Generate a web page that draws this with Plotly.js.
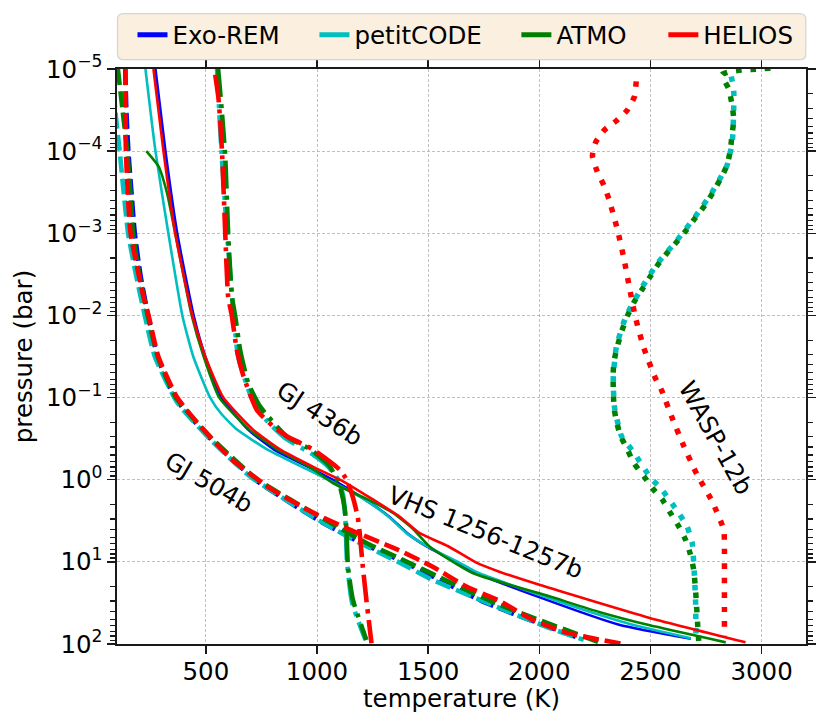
<!DOCTYPE html>
<html><head><meta charset="utf-8">
<script src="https://cdn.plot.ly/plotly-3.0.1.min.js"></script>
<style>html,body{margin:0;padding:0;background:#fff}#chart{width:830px;height:727px}</style>
</head><body><div id="chart"></div>
<script>
// ---------- data (temperature in K, pressure as log10(bar)) ----------
const models = ['Exo-REM', 'petitCODE', 'ATMO', 'HELIOS'];
const yTickExponents = [-5, -4, -3, -2, -1, 0, 1, 2];
const yTickText = ['10<sup>−5</sup>','10<sup>−4</sup>','10<sup>−3</sup>','10<sup>−2</sup>','10<sup>−1</sup>','10<sup>0</sup>','10<sup>1</sup>','10<sup>2</sup>'];
const planetLabels = ['GJ 436b', 'GJ 504b', 'VHS 1256-1257b', 'WASP-12b'];
const xTitle = 'temperature (K)';
const yTitle = 'pressure (bar)';

// VHS 1256-1257b (solid)
const vhsExoremLogP = [-5,-4,-3,-2,-1.5,-1,-0.61,-0.37,-0.16,0,0.24,0.45,0.65,0.815,1.01,1.13,1.42,1.765,1.936];
const vhsExoremT    = [273,318,371,445,497,570,690,805,958,1070,1215,1325,1405,1495,1630,1712,1990,2359,2682];
const vhsPetitLogP  = [-5,-4,-3,-2,-1.5,-1,-0.8,-0.61,-0.37,-0.16,0,0.24,0.45,0.65,0.815,1.01,1.13,1.42,1.61,1.765,1.93];
const vhsPetitT     = [228,273,331,394,443,519,570,640,775,930,1050,1212,1322,1402,1498,1640,1722,2020,2230,2420,2682];
const vhsAtmoLogP   = [-4,-3.81,-3.49,-3,-2,-1.5,-1,-0.61,-0.37,-0.16,0.04,0.24,0.405,0.6,0.812,1.136,1.42,1.61,1.77,1.98];
const vhsAtmoT      = [232,288,325,362,436,490,560,695,820,965,1071,1228,1342,1432,1506,1700,2045,2269,2493,2839];
const vhsHeliosLogP = [-5,-4,-3,-2,-1.5,-1,-0.61,-0.37,-0.16,0,0.12,0.24,0.45,0.65,0.81,1.01,1.12,1.28,1.68,1.98];
const vhsHeliosT    = [264,309,362,439,497,578,712,833,981,1103,1179,1251,1372,1462,1590,1717,1820,2000,2493,2928];

// GJ 504b (dashed)
const gj504ExoremLogP = [-5,-4.5,-4,-3.5,-3,-2.5,-2,-1.5,-1,-0.5,0,0.5,0.77,1,1.5,1.93];
const gj504ExoremT    = [137,142,151,165,180,205,240,282,360,520,722,1010,1200,1390,1760,2180];
const gj504PetitLogP  = [-5,-4.5,-4,-3.5,-3,-2.5,-2,-1.5,-0.94,-0.49,-0.04,0.48,0.64,0.77,1.01,1.22,1.79,1.95];
const gj504PetitT     = [80,92,112,130,150,185,225,270,371,520,699,999,1103,1192,1372,1520,2031,2200];
const gj504AtmoLogP   = [-5,-4.5,-4,-3.5,-3,-2.5,-2,-1.5,-1,-0.5,0,0.5,0.77,1,1.5,2];
const gj504AtmoT      = [104,125,146,160,172,200,238,283,365,528,733,1045,1222,1405,1800,2290];
const gj504HeliosLogP = [-5,-4,-3,-2.23,-2,-1.5,-1,-0.61,-0.244,0.121,0.401,0.608,0.852,1.059,1.302,1.473,1.704,1.862,1.996];
const gj504HeliosT    = [138,140,161,219,242,286,371,488,618,798,982,1147,1363,1520,1672,1820,1968,2121,2370];

// GJ 436b (dash-dot)
const gj436PetitLogP  = [-5,-4,-3,-2,-1.5,-1,-0.7,-0.5,-0.3,-0.16,0,0.2,0.5,1,1.5,1.95];
const gj436PetitT     = [550,570,595,625,645,705,780,860,985,1050,1095,1118,1128,1135,1158,1218];
const gj436AtmoLogP   = [-5,-4.47,-3.93,-3,-2.23,-1.99,-1.58,-1.18,-0.89,-0.53,-0.37,-0.16,0.08,0.36,0.65,1.06,1.46,1.95];
const gj436AtmoT      = [555,572,587,600,617,632,654,690,744,862,970,1058,1103,1125,1133,1139,1161,1222];
const gj436HeliosLogP = [-4.93,-4.63,-4.02,-3,-2.23,-1.99,-1.58,-1.26,-0.85,-0.65,-0.53,-0.37,-0.12,0,0.21,0.45,0.65,1.06,1.46,1.99];
const gj436HeliosT    = [542,557,572,587,600,617,639,669,729,802,864,981,1103,1133,1161,1183,1192,1206,1222,1245];

// WASP-12b (dotted)
const waspPetitLogP  = [-4.91,-4.73,-4.55,-4.17,-4.02,-3.83,-3.66,-3.49,-3.19,-2.9,-2.62,-2.31,-1.99,-1.62,-1.26,-0.89,-0.53,-0.33,-0.02,0.1,0.41,0.57,0.77,1.12,1.46,1.93];
const waspPetitT     = [2864,2875,2875,2870,2862,2845,2812,2775,2698,2615,2528,2455,2390,2347,2333,2338,2370,2426,2501,2546,2628,2665,2688,2697,2703,2705];
const waspAtmoLogP   = [-5.01,-5,-4.99,-4.97,-4.93,-4.76,-4.57,-4.38,-4.2,-4.02,-3.83,-3.66,-3.49,-3.34,-3.19,-3.04,-2.9,-2.76,-2.62,-2.46,-2.31,-2.16,-1.99,-1.81,-1.62,-1.44,-1.26,-0.89,-0.71,-0.53,-0.37,-0.2,-0.04,0.1,0.24,0.41,0.57,0.73,0.91,1.1,1.46,1.83,1.99];
const waspAtmoT      = [3040,2990,2920,2860,2822,2852,2867,2875,2867,2860,2845,2815,2780,2745,2703,2662,2620,2575,2534,2496,2461,2426,2396,2371,2351,2336,2332,2336,2347,2366,2396,2426,2471,2508,2553,2591,2628,2658,2680,2695,2706,2714,2718];
const waspHeliosLogP = [-4.85,-4.67,-4.5,-4.37,-4.26,-4.11,-3.94,-3.75,-3.58,-3.41,-3.05,-2.69,-2.32,-1.96,-1.6,-1.25,-1.09,-0.75,-0.41,-0.06,0.26,0.61,0.81,1.2,1.6,1.91];
const waspHeliosT    = [2436,2429,2396,2347,2294,2254,2239,2261,2291,2314,2351,2381,2407,2434,2471,2520,2550,2598,2650,2710,2777,2830,2833,2833,2833,2833];

// label positions (temperature, log10 pressure)
const labelT    = [1013, 515, 1760, 2792];
const labelLogP = [-0.812, 0.029, 0.639, -0.508];
const labelAngle = [33, 30, 22, 61];

// ---------- styling ----------
const colors = {'Exo-REM':'#0000ff','petitCODE':'#00bfbf','ATMO':'#008000','HELIOS':'#ff0000'};
const FONT = 'DejaVu Sans, Verdana, sans-serif';
const FS = 24.5;
const styles = {
  solid:   {width: 2.6, dash: 'solid'},
  dashed:  {width: 4.6, dash: '16px,6px'},
  dashdot: {width: 4.6, dash: '28px,7px,4px,7px'},
  dotted:  {width: 5.5, dash: '5.5px,9px'}
};
const toP = a => a.map(e => Math.pow(10, e));

const curves = [
  ['Exo-REM','solid', vhsExoremT, vhsExoremLogP],
  ['Exo-REM','dashed', gj504ExoremT, gj504ExoremLogP],
  ['petitCODE','solid', vhsPetitT, vhsPetitLogP],
  ['petitCODE','dashed', gj504PetitT, gj504PetitLogP],
  ['petitCODE','dashdot', gj436PetitT, gj436PetitLogP],
  ['petitCODE','dotted', waspPetitT, waspPetitLogP],
  ['ATMO','solid', vhsAtmoT, vhsAtmoLogP],
  ['ATMO','dashed', gj504AtmoT, gj504AtmoLogP],
  ['ATMO','dashdot', gj436AtmoT, gj436AtmoLogP],
  ['ATMO','dotted', waspAtmoT, waspAtmoLogP],
  ['HELIOS','solid', vhsHeliosT, vhsHeliosLogP],
  ['HELIOS','dashed', gj504HeliosT, gj504HeliosLogP],
  ['HELIOS','dashdot', gj436HeliosT, gj436HeliosLogP],
  ['HELIOS','dotted', waspHeliosT, waspHeliosLogP]
];

const traces = curves.map(([m, st, T, lp]) => ({
  type: 'scatter', mode: 'lines', x: T, y: toP(lp),
  line: {color: colors[m], width: styles[st].width, dash: styles[st].dash, shape: 'spline', smoothing: 0.5},
  showlegend: false, hoverinfo: 'skip', cliponaxis: true
}));

const legendNames = ['legend','legend2','legend3','legend4'];
models.forEach((m, i) => {
  traces.push({type:'scatter', mode:'lines', x:[null], y:[null], name: m,
    line:{color: colors[m], width: 5}, showlegend: true, legend: legendNames[i], hoverinfo:'skip'});
});

const W = 830, H = 727;
const mL = 116.5, mR = 24.3, mT = 69.3, mB = 82.7;
const pw = W - mL - mR, ph = H - mT - mB;
const px2x = px => (px - mL) / pw;
const py2y = py => (H - mB - py) / ph;

const legendTextStart = [172, 354, 556, 703];
const legendFont = {family: FONT, size: FS, color: '#000'};
const axisFont = {family: FONT, size: FS, color: '#000'};
const layout = {
  width: W, height: H,
  margin: {l: mL, r: mR, t: mT, b: mB, pad: 0},
  paper_bgcolor: '#fff', plot_bgcolor: '#fff',
  font: axisFont,
  xaxis: {
    range: [100, 3200], tickmode: 'linear', tick0: 0, dtick: 500,
    ticks: 'outside', ticklen: 8, tickwidth: 1.5, tickcolor: '#1a1a1a',
    ticklabelstandoff: -3,
    showline: true, linewidth: 1.6, linecolor: '#1a1a1a', mirror: 'ticks',
    showgrid: true, gridcolor: '#b0b0b0', gridwidth: 0.8, griddash: '3px,2px',
    zeroline: false, tickfont: axisFont,
    title: {text: ''},
    automargin: false
  },
  yaxis: {
    type: 'log', range: [2, -5],
    tickmode: 'array', tickvals: toP(yTickExponents), ticktext: yTickText,
    ticks: 'outside', ticklen: 8, tickwidth: 1.5, tickcolor: '#1a1a1a',
    minor: {tickmode: 'linear', dtick: 'D1', ticks: 'outside', ticklen: 5, tickwidth: 1.2, tickcolor: '#1a1a1a', showgrid: false},
    showline: true, linewidth: 1.6, linecolor: '#1a1a1a', mirror: 'ticks',
    showgrid: true, gridcolor: '#b0b0b0', gridwidth: 0.8, griddash: '3px,2px',
    zeroline: false, tickfont: axisFont,
    title: {text: yTitle, font: axisFont, standoff: 6},
    automargin: false
  },
  showlegend: true,
  annotations: planetLabels.map((t, i) => ({
    x: labelT[i], y: labelLogP[i], xref: 'x', yref: 'y', text: t, showarrow: false,
    textangle: labelAngle[i], xanchor: 'center', yanchor: 'middle', font: axisFont
  })).concat([{
    x: 0.5, y: py2y(699), xref: 'paper', yref: 'paper', text: xTitle, showarrow: false,
    xanchor: 'center', yanchor: 'middle', font: axisFont
  }]),
  shapes: []
};
legendNames.forEach((ln, i) => {
  layout[ln] = {orientation: 'h', x: px2x(legendTextStart[i] - 40), xanchor: 'left',
    y: py2y(35), yanchor: 'middle', bgcolor: 'rgba(0,0,0,0)', borderwidth: 0,
    font: legendFont, itemclick: false, itemdoubleclick: false};
});
(function(){
  const x0 = px2x(117), x1 = px2x(805.5), yT = py2y(14), yB = py2y(60);
  const rx = 6 / pw, ry = 6 / ph;
  const p = `M${x0+rx},${yT} L${x1-rx},${yT} Q${x1},${yT} ${x1},${yT-ry} L${x1},${yB+ry} Q${x1},${yB} ${x1-rx},${yB} L${x0+rx},${yB} Q${x0},${yB} ${x0},${yB+ry} L${x0},${yT-ry} Q${x0},${yT} ${x0+rx},${yT} Z`;
  layout.shapes.push({type:'path', xref:'paper', yref:'paper', path: p,
    fillcolor:'rgb(251,239,223)', line:{color:'#d4d4d4', width:1.2}, layer:'above'});
})();

Plotly.newPlot('chart', traces, layout, {staticPlot: true, displayModeBar: false});
</script></body></html>
